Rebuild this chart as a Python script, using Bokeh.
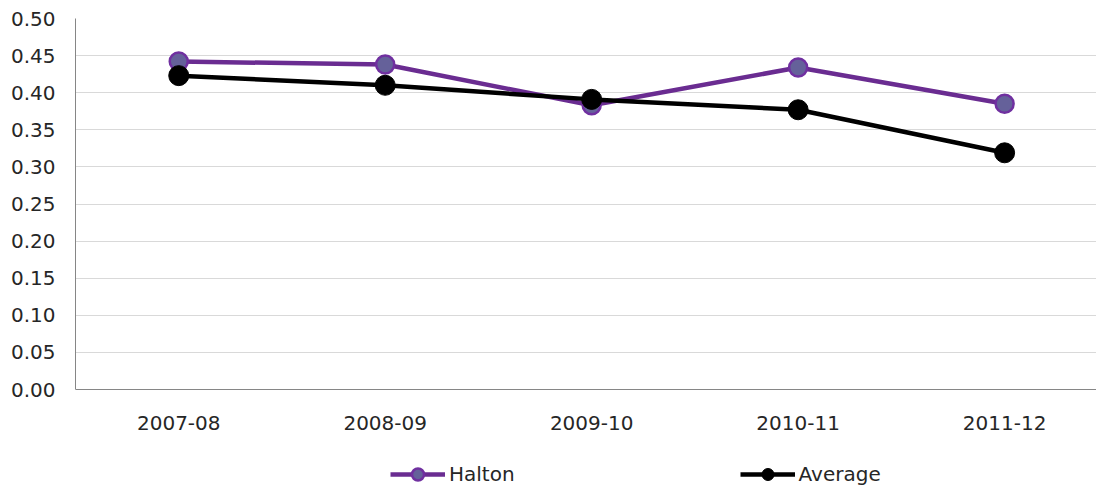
from bokeh.plotting import figure
from bokeh.models import (Range1d, FixedTicker, NumeralTickFormatter, Legend, LegendItem, Span)
from bokeh.core.properties import value
from bokeh.embed import file_html
from bokeh.resources import INLINE

categories = ["2007-08", "2008-09", "2009-10", "2010-11", "2011-12"]
halton = [0.442, 0.438, 0.383, 0.434, 0.385]
average = [0.423, 0.410, 0.391, 0.377, 0.319]
y_ticks = [0.00, 0.05, 0.10, 0.15, 0.20, 0.25, 0.30, 0.35, 0.40, 0.45, 0.50]

FONT = "DejaVu Sans"
FSIZE = "20px"
TEXT_COLOR = "#262626"
xs = list(range(len(categories)))

# frame covers the whole lower area so that the legend and category labels can sit inside it
y_bottom = -97 / 742  # 97px of room below zero at 742px per unit

p = figure(width=1096, height=486, output_backend="svg", toolbar_location=None,
           x_range=Range1d(-0.5, 4.445), y_range=Range1d(y_bottom, 0.5),
           min_border_left=75, min_border_right=0, min_border_top=18, min_border_bottom=0)
p.outline_line_color = None
p.background_fill_color = "white"

p.xgrid.grid_line_color = None
p.ygrid.grid_line_color = "#d9d9d9"
p.ygrid.grid_line_width = 1
p.ygrid.ticker = FixedTicker(ticks=y_ticks)

p.xaxis.visible = False

p.yaxis.ticker = FixedTicker(ticks=y_ticks)
p.yaxis.formatter = NumeralTickFormatter(format="0.00")
p.yaxis.bounds = (0, 0.5)
p.yaxis.axis_line_color = "#868686"
p.yaxis.major_tick_line_color = None
p.yaxis.minor_tick_line_color = None
p.yaxis.major_tick_in = 0
p.yaxis.major_tick_out = 0
p.yaxis.major_label_text_font = FONT
p.yaxis.major_label_text_font_size = FSIZE
p.yaxis.major_label_text_color = TEXT_COLOR
p.yaxis.major_label_standoff = 20

# category axis line at zero and its labels
p.add_layout(Span(location=0, dimension="width", line_color="#868686", line_width=1))
p.text(x=xs, y=[0] * len(xs), text=categories, text_align="center", text_baseline="middle",
       y_offset=33, text_font=value(FONT), text_font_size=FSIZE, text_color=TEXT_COLOR)

hl = p.line(xs, halton, line_color="#6a2c91", line_width=4.5)
hs = p.scatter(xs, halton, size=18, fill_color="#65619a", line_color="#7030a0", line_width=2.5)
al = p.line(xs, average, line_color="black", line_width=4.5)
as_ = p.scatter(xs, average, size=20, fill_color="black", line_color="black", line_width=1)

legend = Legend(items=[LegendItem(label="Halton", renderers=[hl, hs]),
                       LegendItem(label="Average", renderers=[al, as_])],
                orientation="horizontal", location=(315, -3), padding=0, margin=0,
                spacing=225, glyph_width=55, glyph_height=30, label_height=30, label_standoff=4,
                border_line_color=None, background_fill_alpha=0,
                label_text_font=FONT, label_text_font_size=FSIZE, label_text_color=TEXT_COLOR)
p.add_layout(legend, "center")

open("out.html", "w").write(file_html(p, INLINE))
